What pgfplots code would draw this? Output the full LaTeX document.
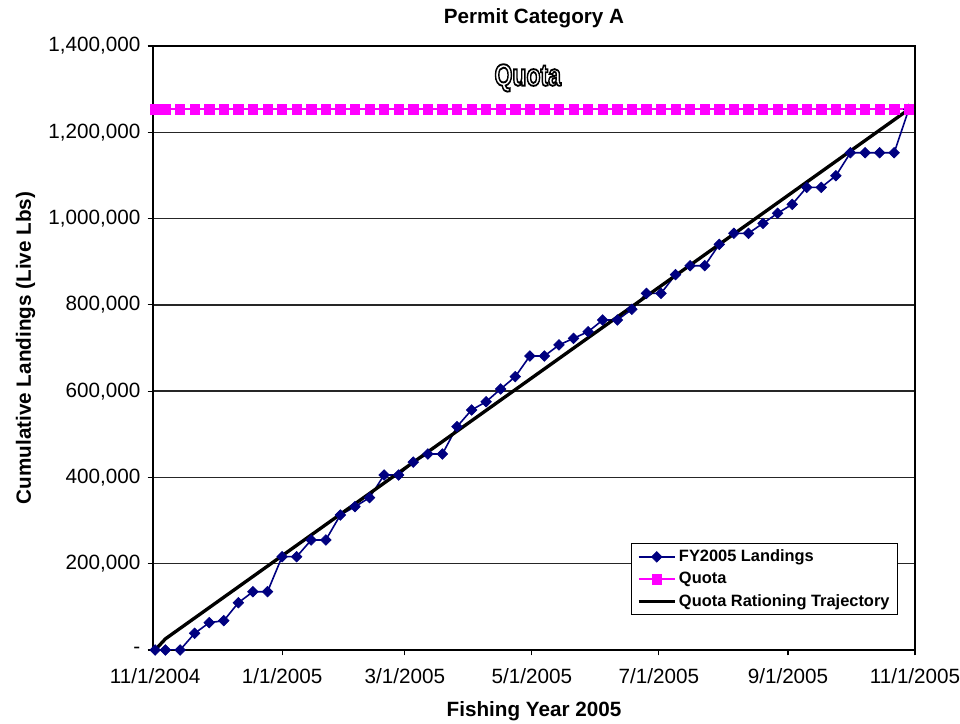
\documentclass[border=0pt]{standalone}
\usepackage{fontspec}
\setmainfont{Liberation Sans}
\usepackage{graphicx}
\usepackage{pgfplots}
\pgfplotsset{compat=1.18}
\definecolor{navy}{RGB}{0,0,128}
\definecolor{quotamag}{RGB}{255,0,255}

\pgfplotstableread{
day landings
0 0
5 0
12 0
19 38600
26 63300
33 67900
40 109600
47 135100
54 135100
61 216300
68 216300
75 255000
82 255000
89 312900
96 332200
103 353000
110 405600
117 405600
124 435500
131 454300
138 454300
145 517600
152 556300
159 575500
166 605000
173 633500
180 681400
187 681400
194 707000
201 722400
208 737800
215 764900
222 764900
229 789600
236 826700
243 826700
250 870000
257 890700
264 890700
271 940300
278 965800
285 965800
292 989000
299 1012200
306 1033000
313 1072400
320 1072400
327 1099300
334 1152600
341 1152600
348 1152600
355 1152600
362 1253000
}\landings

\pgfplotstableread{
day quota
0 1253000
5 1253000
12 1253000
19 1253000
26 1253000
33 1253000
40 1253000
47 1253000
54 1253000
61 1253000
68 1253000
75 1253000
82 1253000
89 1253000
96 1253000
103 1253000
110 1253000
117 1253000
124 1253000
131 1253000
138 1253000
145 1253000
152 1253000
159 1253000
166 1253000
173 1253000
180 1253000
187 1253000
194 1253000
201 1253000
208 1253000
215 1253000
222 1253000
229 1253000
236 1253000
243 1253000
250 1253000
257 1253000
264 1253000
271 1253000
278 1253000
285 1253000
292 1253000
299 1253000
306 1253000
313 1253000
320 1253000
327 1253000
334 1253000
341 1253000
348 1253000
355 1253000
362 1253000
}\quota

\begin{document}
\begin{tikzpicture}
\path[use as bounding box] (-114.75pt,-55.5pt) rectangle (605.25pt,487.5pt);
\begin{axis}[
  scale only axis,
  width=571.5pt, height=453pt,
  xmin=-1, xmax=365, ymin=0, ymax=1400000,
  xtick={0,61,120,181,242,304,365},
  xticklabels={11/1/2004,1/1/2005,3/1/2005,5/1/2005,7/1/2005,9/1/2005,11/1/2005},
  ytick={0,200000,400000,600000,800000,1000000,1200000,1400000},
  yticklabels={-,{200,000},{400,000},{600,000},{800,000},{1,000,000},{1,200,000},{1,400,000}},
  scaled y ticks=false,
  tick align=outside,
  xtick pos=left, ytick pos=left,
  major tick length=4pt,
  tick style={black, line width=0.8pt},
  ymajorgrids,
  grid style={black!85, line width=1pt},
  axis line style={black, line width=1.3pt},
  ticklabel style={font=\fontsize{15.5}{18}\selectfont},
  xticklabel style={yshift=-6.5pt},
  yticklabel style={xshift=-2pt},
  title={Permit Category A},
  title style={font=\bfseries\fontsize{15.5}{18}\selectfont, at={(rel axis cs:0.5,1)}, anchor=base, yshift=11pt, inner sep=0pt},
  xlabel={Fishing Year 2005},
  xlabel style={font=\bfseries\fontsize{15.5}{18}\selectfont, at={(rel axis cs:0.5,0)}, anchor=base, yshift=-50pt, inner sep=0pt},
  legend style={at={(rel axis cs:0.9777,0.0579)}, anchor=south east,
    draw=black, line width=0.8pt, fill=white,
    font=\bfseries\fontsize{12.3}{14}\selectfont,
    inner xsep=4pt, inner ysep=2.5pt, row sep=2.5pt,
    nodes={inner sep=2pt}},
  legend cell align=left,
  legend image code/.code={\draw[mark repeat=2,mark phase=2,#1] plot coordinates {(0pt,0pt) (13.5pt,0pt) (27pt,0pt)};},
]
\addplot[color=navy, line width=1.2pt, mark=square*, mark size=2.8pt, mark options={rotate=45, fill=navy, line width=0.5pt}] table[x=day, y=landings] {\landings};
\addlegendentry{FY2005 Landings}
\addplot[color=quotamag, line width=1.5pt, mark=square*, mark size=3.5pt, mark options={fill=quotamag, line width=0.5pt}] table[x=day, y=quota] {\quota};
\addlegendentry{Quota}
\addplot[color=black, line width=2.5pt, line join=round] coordinates {(0,0) (5,26000) (362,1253000)};
\addlegendentry{Quota Rationing Trajectory}
\coordinate (q) at (axis cs:179,1326000);
\end{axis}
\node[rotate=90, anchor=base, inner sep=0pt, font=\bfseries\fontsize{15.5}{18}\selectfont] at (-91.5pt,226.5pt) {Cumulative Landings (Live Lbs)};
\node[inner sep=0pt, font=\bfseries\fontsize{23}{26}\selectfont, text=white] at (q) {\special{pdf:code 2 Tr 1.4 w 0 G}\scalebox{0.75}[1]{Quota}\special{pdf:code 0 Tr}};
\end{tikzpicture}
\end{document}
